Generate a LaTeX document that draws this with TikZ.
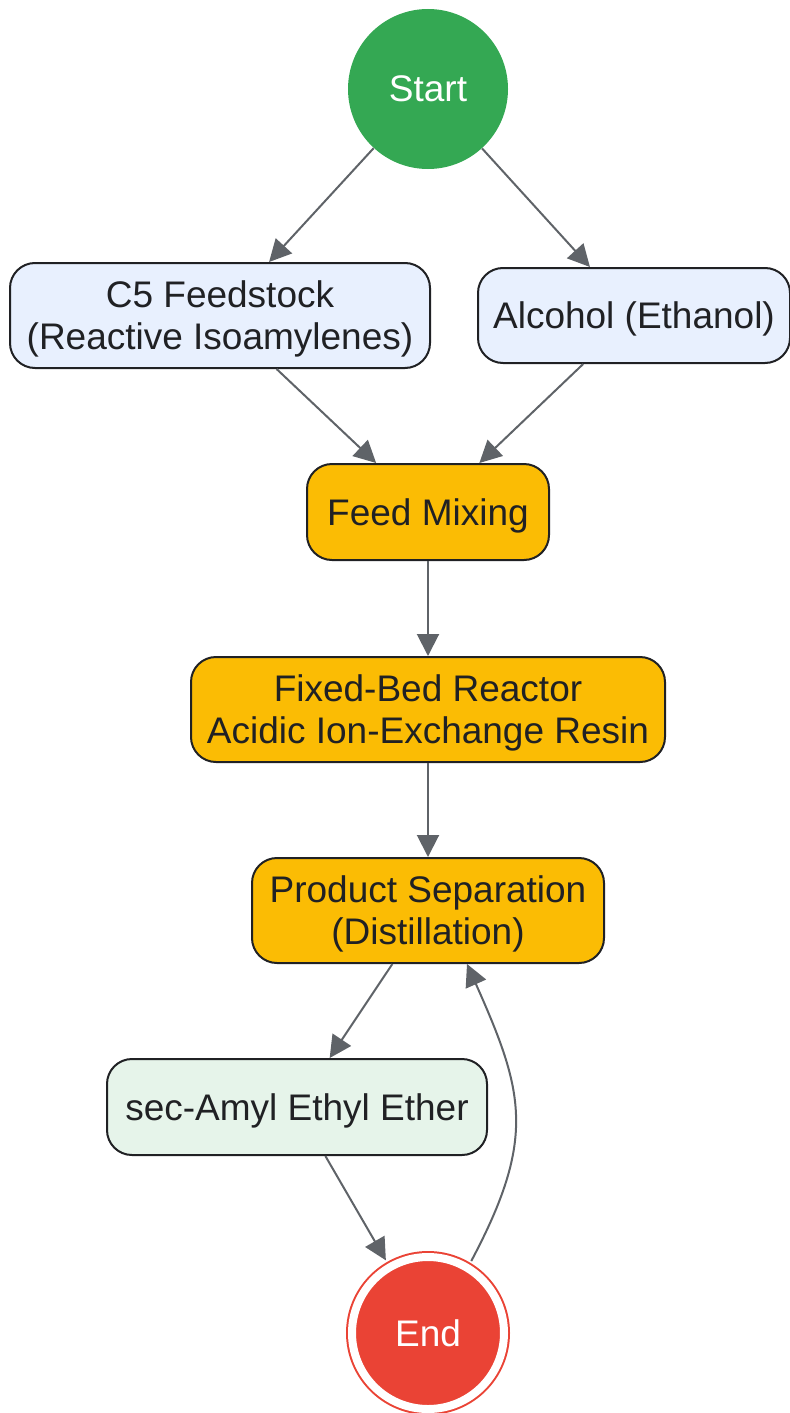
\documentclass[tikz,border=0pt]{standalone}
\usepackage{fontspec}
\setmainfont{Liberation Sans}
\usetikzlibrary{arrows.meta}
\definecolor{startgreen}{HTML}{34A853}
\definecolor{endred}{HTML}{EA4335}
\definecolor{procorange}{HTML}{FBBC04}
\definecolor{inputblue}{HTML}{E8F0FE}
\definecolor{outputgreen}{HTML}{E6F4EA}
\definecolor{edgegray}{HTML}{5F6368}
\definecolor{textdark}{HTML}{202124}
\begin{document}
\begin{tikzpicture}[
    x=0.5pt, y=-0.5pt,
    every node/.style={font=\fontsize{18.5}{21}\selectfont, text=textdark, align=center},
    box/.style={draw=textdark, line width=1pt, rounded corners=12.5pt, inner sep=0pt, text depth=0pt},
    input box/.style={box, fill=inputblue},
    process box/.style={box, fill=procorange},
    output box/.style={box, fill=outputgreen},
    flow/.style={draw=edgegray, line width=1pt, -{Triangle[length=11pt,width=11pt]}},
    ]
\useasboundingbox (0,0) rectangle (790,1413);
\node[circle, fill=startgreen, minimum size=80pt, inner sep=0pt, text=white] (start) at (428,89) {Start};
\node[input box, minimum width=210pt, minimum height=52.5pt] (feedstock) at (220,315.5) {C5 Feedstock\\(Reactive Isoamylenes)};
\node[input box, minimum width=156pt, minimum height=47.5pt] (alcohol) at (634,315.5) {Alcohol (Ethanol)};
\node[process box, minimum width=121pt, minimum height=48pt] (mixing) at (428,512) {Feed Mixing};
\node[process box, minimum width=237pt, minimum height=52.5pt] (reactor) at (428,709.5) {Fixed-Bed Reactor\\Acidic Ion-Exchange Resin};
\node[process box, minimum width=176pt, minimum height=52.5pt] (separation) at (428,910.5) {Product Separation\\(Distillation)};
\node[output box, minimum width=190pt, minimum height=48pt] (ether) at (297,1107) {sec-Amyl Ethyl Ether};
\node[circle, fill=endred, draw=endred, line width=1pt, double=white, double distance=4pt, minimum size=76pt, inner sep=0pt, outer sep=4pt, text=white] (end) at (428,1333) {End};
\draw[flow] (start) -- (feedstock);
\draw[flow] (start) -- (alcohol);
\draw[flow] (feedstock) -- (mixing);
\draw[flow] (alcohol) -- (mixing);
\draw[flow] (mixing) -- (reactor);
\draw[flow] (reactor) -- (separation);
\draw[flow] (separation) -- (ether);
\draw[flow] (ether) -- (end);
\draw[flow] (end.59) to[out=62, in=-66, looseness=1.2] ([xshift=19.5pt]separation.south);
\end{tikzpicture}
\end{document}
